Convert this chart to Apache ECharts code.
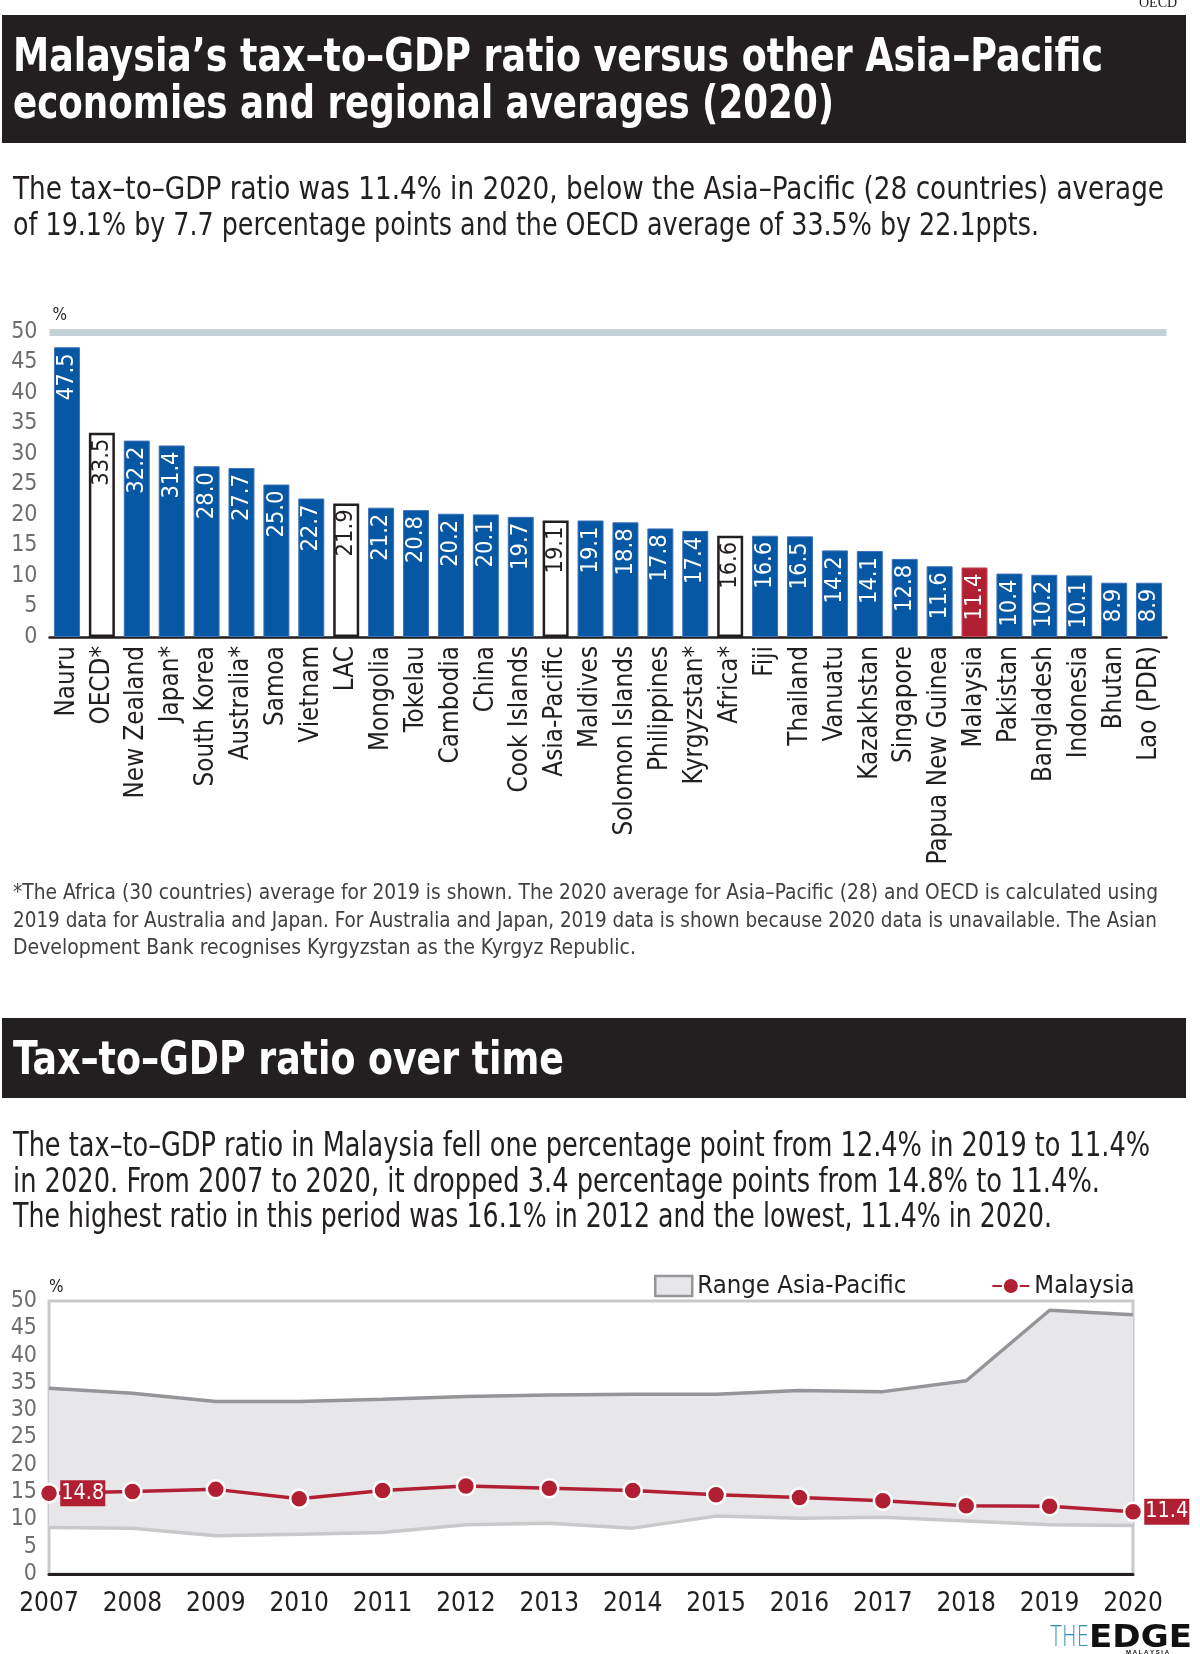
<!DOCTYPE html>
<html><head><meta charset="utf-8">
<script src="https://cdn.jsdelivr.net/npm/echarts@6/dist/echarts.min.js"></script>
<style>html,body{margin:0;padding:0;background:#fff}#c{width:1200px;height:1654px}</style>
</head><body><div id="c"></div>
<script>
// ---------- data ----------
const categories = ['Nauru','OECD*','New Zealand','Japan*','South Korea','Australia*','Samoa','Vietnam','LAC','Mongolia','Tokelau','Cambodia','China','Cook Islands','Asia-Pacific','Maldives','Solomon Islands','Philippines','Kyrgyzstan*','Africa*','Fiji','Thailand','Vanuatu','Kazakhstan','Singapore','Papua New Guinea','Malaysia','Pakistan','Bangladesh','Indonesia','Bhutan','Lao (PDR)'];
const ratios2020 = [47.5,33.5,32.2,31.4,28.0,27.7,25.0,22.7,21.9,21.2,20.8,20.2,20.1,19.7,19.1,19.1,18.8,17.8,17.4,16.6,16.6,16.5,14.2,14.1,12.8,11.6,11.4,10.4,10.2,10.1,8.9,8.9];
const averageCategories = ['OECD*','LAC','Asia-Pacific','Africa*'];
const highlightCategory = 'Malaysia';

const years = ['2007','2008','2009','2010','2011','2012','2013','2014','2015','2016','2017','2018','2019','2020'];
const rangeMax = [34.0,33.1,31.6,31.6,32.0,32.5,32.8,32.9,32.9,33.6,33.4,35.4,48.3,47.5];
const rangeMin = [8.5,8.4,7.0,7.3,7.6,9.0,9.3,8.4,10.6,10.2,10.4,9.7,9.0,8.9];
const malaysia = [14.8,15.1,15.5,13.8,15.3,16.1,15.7,15.3,14.5,14.0,13.4,12.5,12.4,11.4];

const title1 = ['Malaysia\u2019s tax\u2013to\u2013GDP ratio versus other Asia\u2013Pacific', 'economies and regional averages (2020)'];
const intro1 = ['The tax\u2013to\u2013GDP ratio was 11.4% in 2020, below the Asia\u2013Pacific (28 countries) average', 'of 19.1% by 7.7 percentage points and the OECD average of 33.5% by 22.1ppts.'];
const footnote = ['*The Africa (30 countries) average for 2019 is shown. The 2020 average for Asia\u2013Pacific (28) and OECD is calculated using', '2019 data for Australia and Japan. For Australia and Japan, 2019 data is shown because 2020 data is unavailable. The Asian', 'Development Bank recognises Kyrgyzstan as the Kyrgyz Republic.'];
const title2 = 'Tax\u2013to\u2013GDP ratio over time';
const intro2 = ['The tax\u2013to\u2013GDP ratio in Malaysia fell one percentage point from 12.4% in 2019 to 11.4%', 'in 2020. From 2007 to 2020, it dropped 3.4 percentage points from 14.8% to 11.4%.', 'The highest ratio in this period was 16.1% in 2012 and the lowest, 11.4% in 2020.'];

// ---------- style ----------
const NF = "'DejaVu Sans Condensed', 'DejaVu Sans', sans-serif";
const DARK = '#231f20';
const BLUE = '#0657a4';
const RED = '#b11f32';
const GREY = '#6d6e71';

const barData = categories.map((c, i) => {
  const isAvg = averageCategories.includes(c);
  const isHi = c === highlightCategory;
  return {
    value: ratios2020[i],
    itemStyle: isAvg ? {color:'#ffffff', borderColor: DARK, borderWidth: 2.5}
             : {color: isHi ? RED : BLUE, borderColor: isHi ? '#c44a5a' : '#3f72ba', borderWidth: 1},
    label: {color: isAvg ? DARK : '#ffffff'}
  };
});

const bandDiff = rangeMax.map((v, i) => +(v - rangeMin[i]).toFixed(2));
const malaysiaData = malaysia.map((v, i) => {
  if (i === 0 || i === malaysia.length - 1) {
    return {value: v, label: {show: true, position: 'right', distance: 1, formatter: '{c}',
      backgroundColor: RED, color: '#fff', fontFamily: NF, fontSize: 21.5, padding: [3, 1, 1, 1], lineHeight: 22}};
  }
  return v;
});

const mctx = document.createElement('canvas').getContext('2d');
function fitText(x, y, text, size, color, weight, width, family) {
  const font = (weight || 'normal') + ' ' + size + 'px ' + (family || NF);
  mctx.font = font;
  const w = mctx.measureText(text).width;
  const s = width ? width / w : 1;
  return {type: 'text', x: x, y: y, scaleX: s, z: 100,
    style: {text: text, fill: color, font: font, textVerticalAlign: 'middle', textAlign: 'left'}};
}

const graphics = [
  {type: 'rect', shape: {x: 2, y: 15, width: 1184, height: 128}, style: {fill: DARK}, z: 50},
  {type: 'rect', shape: {x: 2, y: 1018, width: 1184, height: 80}, style: {fill: DARK}, z: 50},
  fitText(13, 59, title1[0], 46.5, '#ffffff', 'bold', 1090),
  fitText(13, 106, title1[1], 46.5, '#ffffff', 'bold', 821),
  fitText(13, 191, intro1[0], 31.5, DARK, 'normal', 1151),
  fitText(13, 227, intro1[1], 31.5, DARK, 'normal', 1026),
  fitText(13, 894, footnote[0], 20.5, '#414042', 'normal', 1145),
  fitText(13, 922, footnote[1], 20.5, '#414042', 'normal', 1144),
  fitText(13, 949, footnote[2], 20.5, '#414042', 'normal', 623),
  fitText(13, 1062, title2, 46.5, '#ffffff', 'bold', 551),
  fitText(13, 1147, intro2[0], 33, DARK, 'normal', 1137),
  fitText(13, 1183, intro2[1], 33, DARK, 'normal', 1087),
  fitText(13, 1218, intro2[2], 33, DARK, 'normal', 1039),
  {type: 'text', x: 1139, y: 3, z: 100, style: {text: 'OECD', fill: DARK, font: '14px "Liberation Serif", serif', textVerticalAlign: 'middle'}},
  fitText(1050, 1639, 'THE', 28, '#2e8fb5', '200', 39, "'DejaVu Sans'"),
  fitText(1089, 1639, 'EDGE', 32, '#111111', 'bold', 103, "'DejaVu Sans'"),
  {type: 'text', x: 1126, y: 1652, z: 100, style: {text: 'M A L A Y S I A', fill: '#111', font: 'bold 6px sans-serif', textVerticalAlign: 'middle'}}
];

const chart = echarts.init(document.getElementById('c'), null, {renderer: 'canvas'});
chart.setOption({
  animation: false,
  backgroundColor: '#ffffff',
  graphic: graphics,
  legend: {
    left: 649, top: 1268, itemWidth: 37, itemHeight: 20, itemGap: 85,
    textStyle: {fontFamily: NF, fontSize: 25.5, color: DARK},
    data: [
      {name: 'Range Asia-Pacific', icon: 'rect', itemStyle: {color: '#e7e7e9', borderColor: '#939598', borderWidth: 2.5}},
      {name: 'Malaysia'}
    ]
  },
  grid: [
    {left: 49.5, right: 33.5, top: 332, height: 305},
    {left: 49, right: 67, top: 1301, height: 273, show: true, borderColor: '#c8c9cb', borderWidth: 3, backgroundColor: 'transparent'}
  ],
  xAxis: [
    {type: 'category', gridIndex: 0, data: categories, boundaryGap: true,
     axisLine: {lineStyle: {color: DARK, width: 2.5}}, axisTick: {show: false},
     axisLabel: {rotate: 90, interval: 0, margin: 9, fontFamily: NF, fontSize: 25.8, color: DARK}},
    {type: 'category', gridIndex: 1, data: years, boundaryGap: false,
     axisLine: {lineStyle: {color: DARK, width: 3}}, axisTick: {show: false},
     axisLabel: {interval: 0, margin: 17, fontFamily: NF, fontSize: 26, color: DARK}}
  ],
  yAxis: [
    {type: 'value', gridIndex: 0, min: 0, max: 50, interval: 5, name: '%', nameGap: 8,
     nameTextStyle: {fontFamily: NF, fontSize: 17, color: DARK, align: 'left', padding: [0, 0, 0, 3]},
     axisLine: {show: false}, axisTick: {show: false}, splitLine: {show: false},
     axisLabel: {margin: 12, fontFamily: NF, fontSize: 23, color: GREY}},
    {type: 'value', gridIndex: 1, min: 0, max: 50, interval: 5, name: '%', nameGap: 5,
     nameTextStyle: {fontFamily: NF, fontSize: 17, color: DARK, align: 'left', padding: [0, 0, 0, 0]},
     axisLine: {show: false}, axisTick: {show: false}, splitLine: {show: false},
     axisLabel: {margin: 12, fontFamily: NF, fontSize: 23, color: GREY}}
  ],
  series: [
    {type: 'bar', xAxisIndex: 0, yAxisIndex: 0, data: barData, barWidth: 26,
     label: {show: true, position: 'insideTop', rotate: 90, align: 'right', verticalAlign: 'middle', distance: 6,
       fontFamily: NF, fontSize: 23.5, formatter: p => p.value.toFixed(1)},
     markLine: {silent: true, symbol: 'none', label: {show: false},
       lineStyle: {type: 'solid', color: '#c3d1d8', width: 7}, data: [{yAxis: 50}]}},
    {type: 'line', name: 'Range low', xAxisIndex: 1, yAxisIndex: 1, data: rangeMin, stack: 'range',
     symbol: 'none', lineStyle: {color: '#c8c9cb', width: 3.5}, z: 2},
    {type: 'line', name: 'Range Asia-Pacific', xAxisIndex: 1, yAxisIndex: 1, data: bandDiff, stack: 'range',
     symbol: 'none', lineStyle: {color: '#939598', width: 3.5}, areaStyle: {color: '#e7e7e9', opacity: 1},
     itemStyle: {color: '#e7e7e9'}, z: 1},
    {type: 'line', name: 'Malaysia', xAxisIndex: 1, yAxisIndex: 1, data: malaysiaData,
     symbol: 'circle', symbolSize: 18, lineStyle: {color: RED, width: 3.5},
     itemStyle: {color: RED, borderColor: '#ffffff', borderWidth: 2.5}, z: 5}
  ]
});
</script></body></html>
